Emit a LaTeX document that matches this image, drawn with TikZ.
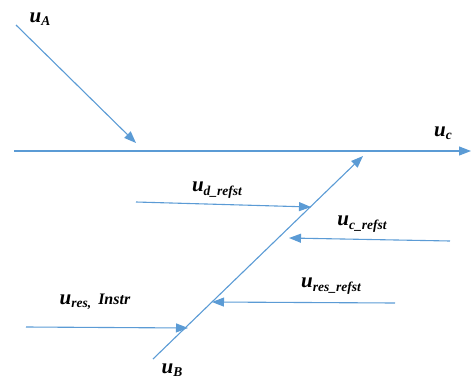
\documentclass[tikz,border=0pt]{standalone}
\usepackage{fontspec}
\setmainfont{Liberation Serif}
\usetikzlibrary{arrows.meta}
\definecolor{lb}{RGB}{91,155,213}
\newcommand{\uu}{\fontsize{21}{21}\selectfont\bfseries\itshape u}
\newcommand{\sbs}[1]{\raisebox{-3.5pt}{\fontsize{13.5}{13.5}\selectfont\bfseries\itshape #1}}
\begin{document}
\begin{tikzpicture}[x=1pt,y=-1pt,
  arr/.style={draw=lb, line width=1.1pt, -{Triangle[length=12pt,width=9pt]}},
  lab/.style={inner sep=0pt, anchor=center}]
\useasboundingbox (0,0) rectangle (472,381);
% coordinates
\coordinate (a0) at (16,25);
\coordinate (a1) at (136,143);
\coordinate (c0) at (14,151);
\coordinate (c1) at (471,151);
\coordinate (b0) at (153,359);
\coordinate (b1) at (363,156);
\coordinate (d0) at (136,202);
\coordinate (d1) at (311,207);
\coordinate (e0) at (450,241);
\coordinate (e1) at (289,238);
\coordinate (f0) at (395,303);
\coordinate (f1) at (212,302);
\coordinate (g0) at (26,327);
\coordinate (g1) at (188,328);
% arrows
\draw[arr] (a0) -- (a1);
\draw[arr] (c0) -- (c1);
\draw[arr] (b0) -- (b1);
\draw[arr] (d0) -- (d1);
\draw[arr] (e0) -- (e1);
\draw[arr] (f0) -- (f1);
\draw[arr] (g0) -- (g1);
% labels
\node[lab] (la) at (40,19) {\uu\sbs{A}};
\node[lab] (lc) at (443,133) {\uu\sbs{c}};
\node[lab] (ld) at (217,190) {\uu\sbs{d\_refst}};
\node[lab] (le) at (362,224) {\uu\sbs{c\_refst}};
\node[lab] (lf) at (331,286) {\uu\sbs{res\_refst}};
\node[lab] (lg) at (95,302) {\uu\sbs{res,}\hspace{7pt}{\fontsize{16}{16}\selectfont\bfseries\itshape Instr}};
\node[lab] (lb) at (172,370) {\uu\sbs{B}};
\end{tikzpicture}
\end{document}
